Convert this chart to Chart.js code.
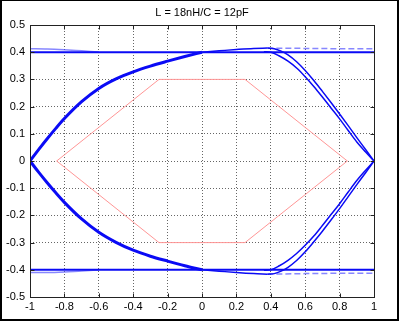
<!DOCTYPE html>
<html>
<head>
<meta charset="utf-8">
<script src="https://cdn.jsdelivr.net/npm/chart.js@4.4.1/dist/chart.umd.min.js"></script>
<style>
    html, body { margin: 0; padding: 0; background: #fff; }
    canvas { display: block; }
</style>
</head>
<body>
<canvas id="eye-chart" width="399" height="321"></canvas>
<script>
var chartTitle = 'L = 18nH/C = 12pF';
var xTicks = [-1, -0.8, -0.6, -0.4, -0.2, 0, 0.2, 0.4, 0.6, 0.8, 1];
var yTicks = [-0.5, -0.4, -0.3, -0.2, -0.1, 0, 0.1, 0.2, 0.3, 0.4, 0.5];

// eye mask (hexagon)
var maskX = [-0.845, -0.25, 0.25, 0.845, 0.25, -0.25, -0.845];
var maskY = [0, 0.3, 0.3, 0, -0.3, -0.3, 0];

// left half: transitions out of the crossing at x = -1
var leftX = [-1, -0.95, -0.9, -0.85, -0.8, -0.7, -0.6, -0.5, -0.4, -0.3, -0.2, -0.1, 0];
var riseY = [0, 0.042, 0.082, 0.12, 0.156, 0.218, 0.267, 0.302, 0.328, 0.349, 0.367, 0.384, 0.4];
var fallY = [0, -0.041, -0.08, -0.117, -0.152, -0.213, -0.262, -0.299, -0.328, -0.35, -0.368, -0.385, -0.4];

// overshoot after the transition, before the next edge
var carryX = [0, 0.1, 0.2, 0.3, 0.38];
var carryTopY = [0.4, 0.405, 0.41, 0.414, 0.415];
var carryBotY = [-0.4, -0.405, -0.41, -0.414, -0.416];

// right half: transitions into the crossing at x = 1 (two traces each)
var innerX = [0.36, 0.4, 0.45, 0.5, 0.55, 0.6, 0.65, 0.7, 0.75, 0.8, 0.85, 0.9, 0.95, 1];
var fallInY = [0.402, 0.4, 0.386, 0.367, 0.342, 0.31, 0.274, 0.235, 0.195, 0.155, 0.112, 0.07, 0.034, 0];
var riseInY = [-0.402, -0.4, -0.385, -0.365, -0.34, -0.31, -0.276, -0.237, -0.197, -0.157, -0.114, -0.072, -0.035, 0];
var outerX = [0.38, 0.42, 0.46, 0.5, 0.55, 0.6, 0.65, 0.7, 0.75, 0.8, 0.85, 0.9, 0.95, 1];
var fallOutY = [0.415, 0.413, 0.404, 0.39, 0.365, 0.333, 0.296, 0.256, 0.215, 0.173, 0.13, 0.086, 0.043, 0];
var riseOutY = [-0.416, -0.414, -0.405, -0.391, -0.366, -0.334, -0.297, -0.258, -0.217, -0.175, -0.131, -0.087, -0.044, 0];

// steady levels
var railX = [-1, 1];
var railTopY = [0.4, 0.4];
var railBotY = [-0.4, -0.4];
var ghostLeftX = [-1, -0.9, -0.8, -0.7, -0.6];
var ghostTopLeftY = [0.413, 0.412, 0.409, 0.405, 0.401];
var ghostBotLeftY = [-0.41, -0.41, -0.408, -0.404, -0.401];
var ghostRightX = [0.38, 0.6, 0.8, 1];
var ghostTopRightY = [0.415, 0.414, 0.413, 0.413];
var ghostBotRightY = [-0.416, -0.414, -0.413, -0.413];

var BLUE = 'rgb(10, 10, 245)';
var GHOST = 'rgba(70, 70, 255, 0.65)';

function pts(xs, ys) {
    return xs.map(function (x, i) { return { x: x, y: ys[i] }; });
}

function line(xs, ys, color, width, extra) {
    var ds = {
        data: pts(xs, ys),
        showLine: true,
        borderColor: color,
        borderWidth: width,
        pointRadius: 0,
        fill: false,
        cubicInterpolationMode: 'monotone'
    };
    return Object.assign(ds, extra || {});
}

// box and inward tick marks, outer frame
var framePlugin = {
    id: 'frame',
    beforeDraw: function (chart) {
        var ctx = chart.ctx;
        ctx.save();
        ctx.fillStyle = '#fff';
        ctx.fillRect(0, 0, chart.width, chart.height);
        ctx.restore();
    },
    afterDraw: function (chart) {
        var ctx = chart.ctx;
        var a = chart.chartArea;
        var xs = chart.scales.x, ys = chart.scales.y;
        var l = Math.round(a.left) + 0.5, r = Math.round(a.right) + 0.5;
        var t = Math.round(a.top) + 0.5, b = Math.round(a.bottom) + 0.5;
        ctx.save();
        ctx.strokeStyle = '#222';
        ctx.lineWidth = 1;
        ctx.strokeRect(l, t, r - l, b - t);
        ctx.beginPath();
        xTicks.forEach(function (v) {
            var px = Math.round(xs.getPixelForValue(v)) + 0.5;
            ctx.moveTo(px, b); ctx.lineTo(px, b - 4);
            ctx.moveTo(px, t); ctx.lineTo(px, t + 4);
        });
        yTicks.forEach(function (v) {
            var py = Math.round(ys.getPixelForValue(v)) + 0.5;
            ctx.moveTo(l, py); ctx.lineTo(l + 4, py);
            ctx.moveTo(r, py); ctx.lineTo(r - 4, py);
        });
        ctx.stroke();
        ctx.fillStyle = '#000';
        ctx.fillRect(0, 0, chart.width, 1);
        ctx.fillRect(0, 0, 2, chart.height);
        ctx.fillRect(chart.width - 2, 0, 2, chart.height);
        ctx.fillRect(0, chart.height - 2, chart.width, 2);
        ctx.restore();
    }
};

Chart.defaults.font.family = '"Liberation Sans", Arial, sans-serif';
Chart.defaults.font.size = 11;
Chart.defaults.color = '#000';

var gridOpts = {
    color: 'rgba(0, 0, 0, 0.6)',
    lineWidth: 1,
    drawTicks: false
};
var borderOpts = { display: false, dash: [1, 2] };

new Chart(document.getElementById('eye-chart'), {
    type: 'scatter',
    data: {
        datasets: [
            line(leftX, riseY, BLUE, 3),
            line(leftX, fallY, BLUE, 3),
            line(carryX, carryTopY, BLUE, 1.5),
            line(carryX, carryBotY, BLUE, 1.5),
            line(innerX, fallInY, BLUE, 1.5),
            line(outerX, fallOutY, BLUE, 1.5),
            line(innerX, riseInY, BLUE, 1.5),
            line(outerX, riseOutY, BLUE, 1.5),
            line(railX, railTopY, BLUE, 2, { cubicInterpolationMode: 'default', tension: 0 }),
            line(railX, railBotY, BLUE, 2, { cubicInterpolationMode: 'default', tension: 0 }),
            line(ghostLeftX, ghostTopLeftY, GHOST, 1.5),
            line(ghostLeftX, ghostBotLeftY, GHOST, 1.5),
            line(ghostRightX, ghostTopRightY, GHOST, 1.5, { borderDash: [6, 3] }),
            line(ghostRightX, ghostBotRightY, GHOST, 1.5, { borderDash: [6, 3] }),
            line(maskX, maskY, 'rgb(255, 150, 150)', 1, { cubicInterpolationMode: 'default', tension: 0 })
        ]
    },
    options: {
        responsive: false,
        animation: false,
        layout: { padding: { top: 0, right: 25, bottom: 0, left: 0 } },
        plugins: {
            legend: { display: false },
            tooltip: { enabled: false },
            title: {
                display: true,
                text: chartTitle,
                fullSize: false,
                font: { size: 11, weight: 'normal' },
                padding: { top: 6, bottom: 5.8 }
            }
        },
        scales: {
            x: {
                type: 'linear',
                min: -1,
                max: 1,
                afterBuildTicks: function (scale) {
                    scale.ticks = xTicks.map(function (v) { return { value: v }; });
                },
                afterFit: function (scale) { scale.height = 24; },
                ticks: {
                    padding: 3,
                    maxRotation: 0,
                    autoSkip: false,
                    callback: function (v) { return String(v); }
                },
                grid: gridOpts,
                border: borderOpts
            },
            y: {
                type: 'linear',
                min: -0.5,
                max: 0.5,
                afterBuildTicks: function (scale) {
                    scale.ticks = yTicks.map(function (v) { return { value: v }; });
                },
                afterFit: function (scale) { scale.width = 30; },
                ticks: {
                    padding: 5,
                    autoSkip: false,
                    callback: function (v) { return String(v); }
                },
                grid: gridOpts,
                border: borderOpts
            }
        }
    },
    plugins: [framePlugin]
});
</script>
</body>
</html>
